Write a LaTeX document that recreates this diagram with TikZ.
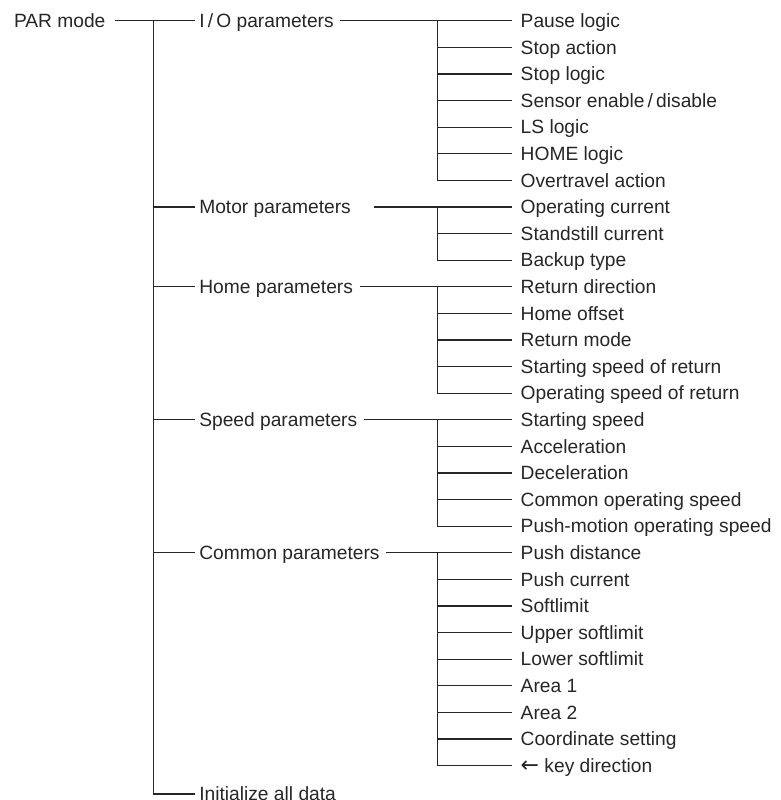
\documentclass[tikz,border=0pt]{standalone}
\usepackage{fontspec}
\setmainfont{Liberation Sans}
\newfontfamily\arrowfont{DejaVu Sans}
\definecolor{ink}{RGB}{38,38,38}
\begin{document}
\begin{tikzpicture}[x=1pt,y=-1pt,
  lbl/.style={anchor=west,inner sep=0pt,outer sep=0pt,text height=13.6pt,text depth=0pt,
    font=\fontsize{19.2}{22}\selectfont,text=ink},
  conn/.style={draw=ink,line width=1.2pt}]
\useasboundingbox (0,0) rectangle (781,800);
\def\rr#1{20.7+26.6*#1}
% level 0
\node[lbl] (par) at (14,20.7) {PAR mode};
% level 1
\node[lbl] (io)   at (199.3,{\rr{0}})  {I\,/\,O parameters};
\node[lbl] (mot)  at (199.3,{\rr{7}})  {Motor parameters};
\node[lbl] (home) at (199.3,{\rr{10}}) {Home parameters};
\node[lbl] (spd)  at (199.3,{\rr{15}}) {Speed parameters};
\node[lbl] (com)  at (199.3,{\rr{20}}) {Common parameters};
\node[lbl] (init) at (199.3,794)       {Initialize all data};
% level 2
\foreach \t [count=\i from 0] in {Pause logic,Stop action,Stop logic,Sensor enable\,/\,disable,LS logic,HOME logic,Overtravel action,
  Operating current,Standstill current,Backup type,
  Return direction,Home offset,Return mode,Starting speed of return,Operating speed of return,
  Starting speed,Acceleration,Deceleration,Common operating speed,Push-motion operating speed,
  Push distance,Push current,Softlimit,Upper softlimit,Lower softlimit,Area 1,Area 2,Coordinate setting,{{\arrowfont\fontsize{22}{22}\selectfont ←}~key direction}}
  \node[lbl] (c\i) at (520.7,{\rr{\i}}) {\t};
\coordinate (T) at (153.7,20.7);
\coordinate (V) at (437.3,20.7);
% trunk
\draw[conn] ([xshift=9.4pt]par.east) -- ([xshift=-4.3pt]io.west);
\draw[conn] (T) -- (T |- init.west) -- ([xshift=-4.8pt]init.west);
\foreach \n in {mot,home,spd,com}
  \draw[conn] (T |- \n.west) -- ([xshift=-4.8pt]\n.west);
% level-2 groups
\draw[conn] ([xshift=6.3pt]io.east) -- ([xshift=-8.7pt]c0.west);
\draw[conn] ([xshift=22.7pt]mot.east) -- ([xshift=-8.7pt]c7.west);
\draw[conn] ([xshift=6.6pt]home.east) -- ([xshift=-8.7pt]c10.west);
\draw[conn] ([xshift=6.3pt]spd.east) -- ([xshift=-8.7pt]c15.west);
\draw[conn] ([xshift=6pt]com.east) -- ([xshift=-8.7pt]c20.west);
\foreach \a/\b in {0/6,7/9,10/14,15/19,20/28}
  \draw[conn] (V |- c\a.west) -- (V |- c\b.west) -- ([xshift=-8.7pt]c\b.west);
\foreach \i in {1,...,5,8,11,12,13,16,17,18,21,22,...,27}
  \draw[conn] (V |- c\i.west) -- ([xshift=-8.7pt]c\i.west);
\end{tikzpicture}
\end{document}
